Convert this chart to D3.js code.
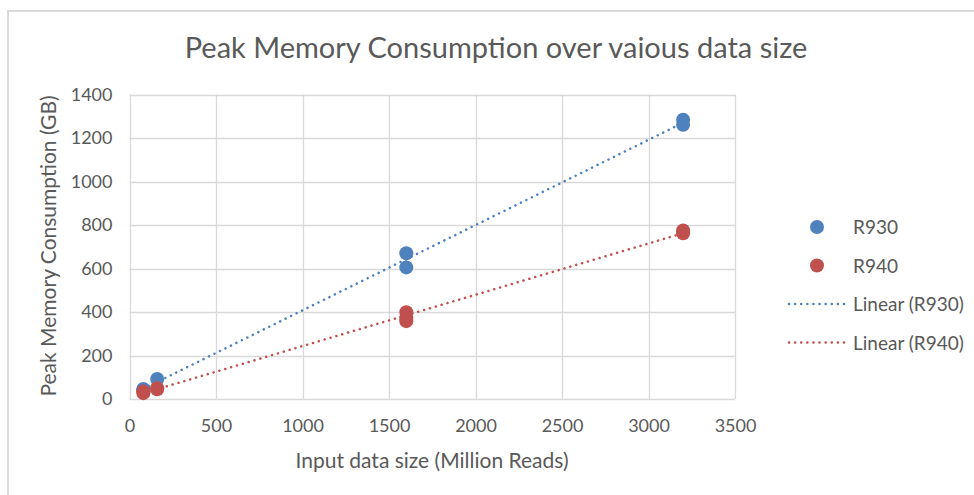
<!DOCTYPE html>
<html><head><meta charset="utf-8">
<script src="https://cdn.jsdelivr.net/npm/d3@7"></script>
<style>body{margin:0;background:#fff;} text{font-family:Lato,"Open Sans",sans-serif;fill:#595959;}</style>
</head><body>
<svg id="c" width="974" height="495"></svg>
<script>
const seriesNames = ["R930", "R940"];
const colors = ["#4f81bd", "#c0504d"];
const r930X = [80, 80, 160, 1600, 1600, 3200, 3200];
const r930Y = [46, 40, 92, 670, 605, 1284, 1261];
const r940X = [80, 80, 160, 160, 1600, 1600, 1600, 3200, 3200];
const r940Y = [27, 35, 50, 45, 399, 372, 358, 775, 762];
const xTicks = [0, 500, 1000, 1500, 2000, 2500, 3000, 3500];
const yTicks = [0, 200, 400, 600, 800, 1000, 1200, 1400];
const title = "Peak Memory Consumption over vaious data size";
const xTitle = "Input data size (Million Reads)";
const yTitle = "Peak Memory Consumption (GB)";

const svg = d3.select("#c");
svg.append("path").attr("d","M8,495V11H974").attr("fill","none").attr("stroke","#d9d9d9").attr("stroke-width",2);

const L=129.5, R=735, T=94.5, B=399;
const x = d3.scaleLinear().domain([0,3500]).range([L,R]);
const y = d3.scaleLinear().domain([0,1400]).range([B,T]);

const g = svg.append("g");
g.selectAll("line.h").data(yTicks).join("line").attr("x1",L).attr("x2",R)
  .attr("y1",d=>Math.round(y(d))+0.5).attr("y2",d=>Math.round(y(d))+0.5).attr("stroke","#d9d9d9").attr("stroke-width",1.3);
g.selectAll("line.v").data(xTicks).join("line").attr("y1",T).attr("y2",B)
  .attr("x1",d=>Math.round(x(d))+0.5).attr("x2",d=>Math.round(x(d))+0.5).attr("stroke","#d9d9d9").attr("stroke-width",1.3);

const fmt = d3.format("d");
const xa = svg.append("g").attr("transform",`translate(0,${B})`).call(d3.axisBottom(x).tickValues(xTicks).tickFormat(fmt).tickSize(0).tickPadding(20));
const ya = svg.append("g").attr("transform",`translate(${L},0)`).call(d3.axisLeft(y).tickValues(yTicks).tickFormat(fmt).tickSize(0).tickPadding(17));
[xa,ya].forEach(a=>{a.select(".domain").remove(); a.selectAll("text").style("font-size","18px").attr("fill","#595959").style("font-family","Lato,'Open Sans',sans-serif");});

const data = [[r930X,r930Y],[r940X,r940Y]];
data.forEach(([xs,ys],i)=>{
  const mx=d3.mean(xs), my=d3.mean(ys);
  const b=d3.sum(xs.map((v,k)=>(v-mx)*(ys[k]-my)))/d3.sum(xs.map(v=>(v-mx)*(v-mx)));
  const a=my-b*mx;
  const x0=d3.min(xs), x1=d3.max(xs);
  svg.append("line").attr("x1",x(x0)).attr("y1",y(a+b*x0)).attr("x2",x(x1)).attr("y2",y(a+b*x1))
    .attr("stroke",colors[i]).attr("stroke-width",2.5).attr("stroke-dasharray","0.1,6").attr("stroke-linecap","round");
});
data.forEach(([xs,ys],i)=>{
  svg.append("g").selectAll("circle").data(xs.map((v,k)=>[v,ys[k]])).join("circle")
    .attr("cx",d=>x(d[0])).attr("cy",d=>y(d[1])).attr("r",7).attr("fill",colors[i]);
});

svg.append("text").attr("x",496).attr("y",58).attr("text-anchor","middle").style("font-size","29px").text(title);
svg.append("text").attr("x",432).attr("y",468).attr("text-anchor","middle").style("font-size","21px").text(xTitle);
svg.append("text").attr("transform",`translate(56,246) rotate(-90)`).attr("text-anchor","middle").style("font-size","21px").text(yTitle);

const lg = svg.append("g");
seriesNames.forEach((s,i)=>{
  lg.append("circle").attr("cx",817).attr("cy",227+i*38.5).attr("r",7).attr("fill",colors[i]);
  lg.append("text").attr("x",853).attr("y",234+i*38.5).style("font-size","19px").text(s);
});
seriesNames.forEach((s,i)=>{
  const yy=304+i*38.5;
  lg.append("line").attr("x1",789).attr("x2",845).attr("y1",yy).attr("y2",yy).attr("stroke",colors[i])
    .attr("stroke-width",2.5).attr("stroke-dasharray","0.1,6").attr("stroke-linecap","round");
  lg.append("text").attr("x",853).attr("y",yy+7).style("font-size","19px").text(`Linear (${s})`);
});
</script>
</body></html>
